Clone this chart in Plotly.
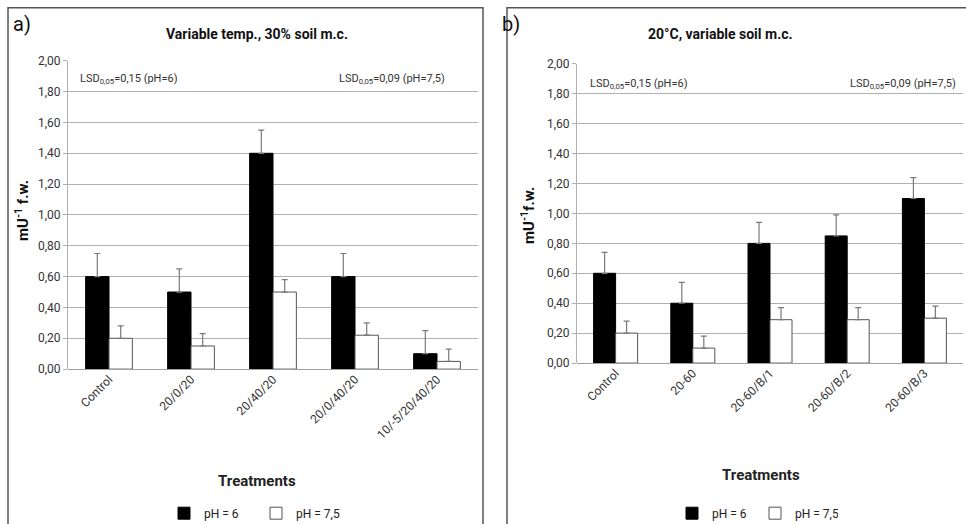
import plotly.graph_objects as go

# ---- data ----
cats_a = ["Control", "20/0/20", "20/40/20", "20/0/40/20", "10/-5/20/40/20"]
ph6_a = [0.60, 0.50, 1.40, 0.60, 0.10]
ph6_a_err = [0.15, 0.15, 0.15, 0.15, 0.15]
ph75_a = [0.20, 0.15, 0.50, 0.22, 0.05]
ph75_a_err = [0.08, 0.08, 0.08, 0.08, 0.08]

cats_b = ["Control", "20-60", "20-60/B/1", "20-60/B/2", "20-60/B/3"]
ph6_b = [0.60, 0.40, 0.80, 0.85, 1.10]
ph6_b_err = [0.14, 0.14, 0.14, 0.14, 0.14]
ph75_b = [0.20, 0.10, 0.29, 0.29, 0.30]
ph75_b_err = [0.08, 0.08, 0.08, 0.08, 0.08]

ytick_vals = [0.0, 0.2, 0.4, 0.6, 0.8, 1.0, 1.2, 1.4, 1.6, 1.8, 2.0]
ytick_text = ["0,00", "0,20", "0,40", "0,60", "0,80", "1,00", "1,20", "1,40", "1,60", "1,80", "2,00"]

# empirical page placement (body margin removed by post_script)
OFFX = 0
OFFY = 7.6
SY = 0.967
W, H = 966, 545
FONT = "Roboto, Arial, sans-serif"


def px(x):
    return (x - OFFX) / W


def py(y):
    return 1 - ((y - OFFY) / SY) / H


fig = go.Figure()

err_style = dict(type="data", symmetric=False, color="#7a7a7a", thickness=1.2, width=3)

fig.add_trace(go.Bar(x=cats_a, y=ph6_a, name="pH = 6", xaxis="x", yaxis="y",
                     marker=dict(color="black", line=dict(color="black", width=1)),
                     error_y=dict(array=ph6_a_err, arrayminus=[0] * 5, **err_style),
                     legend="legend"))
fig.add_trace(go.Bar(x=cats_a, y=ph75_a, name="pH = 7,5", xaxis="x", yaxis="y",
                     marker=dict(color="white", line=dict(color="#555555", width=1)),
                     error_y=dict(array=ph75_a_err, arrayminus=[0] * 5, **err_style),
                     legend="legend"))
fig.add_trace(go.Bar(x=cats_b, y=ph6_b, name="pH = 6", xaxis="x2", yaxis="y2",
                     marker=dict(color="black", line=dict(color="black", width=1)),
                     error_y=dict(array=ph6_b_err, arrayminus=[0] * 5, **err_style),
                     legend="legend2"))
fig.add_trace(go.Bar(x=cats_b, y=ph75_b, name="pH = 7,5", xaxis="x2", yaxis="y2",
                     marker=dict(color="white", line=dict(color="#555555", width=1)),
                     error_y=dict(array=ph75_b_err, arrayminus=[0] * 5, **err_style),
                     legend="legend2"))

xaxis_common = dict(type="category", tickangle=-45, showgrid=False, showline=False,
                    ticks="", tickfont=dict(family=FONT, size=12, color="#333"))
yaxis_common = dict(range=[0, 2.0], tickvals=ytick_vals, ticktext=ytick_text,
                    showgrid=True, gridcolor="#b0b0b0", gridwidth=1,
                    showline=True, linecolor="#b0b0b0", linewidth=1,
                    ticks="outside", ticklen=4, tickcolor="#b0b0b0",
                    zeroline=True, zerolinecolor="#a0a0a0", zerolinewidth=1,
                    tickfont=dict(family=FONT, size=12, color="#333"))

fig.update_layout(
    width=W, height=H,
    margin=dict(l=0, r=0, t=0, b=0),
    paper_bgcolor="white", plot_bgcolor="white",
    font=dict(family=FONT, color="#222"),
    barmode="group", bargap=0.43, bargroupgap=0.0,
    xaxis=dict(domain=[px(68), px(478)], anchor="y", **xaxis_common),
    yaxis=dict(domain=[py(367), py(61)], anchor="x", **yaxis_common),
    xaxis2=dict(domain=[px(577), px(963)], anchor="y2", **xaxis_common),
    yaxis2=dict(domain=[py(361), py(64)], anchor="x2", **yaxis_common),
    legend=dict(orientation="h", x=px(164), y=py(510), xanchor="left", yanchor="middle",
                font=dict(family=FONT, size=12, color="#222"), entrywidth=47,
                entrywidthmode="pixels", itemwidth=30, bgcolor="rgba(0,0,0,0)"),
    legend2=dict(orientation="h", x=px(672), y=py(510), xanchor="left", yanchor="middle",
                 font=dict(family=FONT, size=12, color="#222"), entrywidth=38,
                 entrywidthmode="pixels", itemwidth=30, bgcolor="rgba(0,0,0,0)"),
)

annotations = [
    dict(text="a)", x=px(22), y=py(24), font=dict(size=20, color="#111")),
    dict(text="b)", x=px(511), y=py(24), font=dict(size=20, color="#111")),
    dict(text="<b>Variable temp., 30% soil m.c.</b>", x=px(257), y=py(34), font=dict(size=14, color="#111")),
    dict(text="<b>20°C, variable soil m.c.</b>", x=px(720), y=py(34), font=dict(size=14, color="#111")),
    dict(text="<b>mU<sup>-1</sup> f.w.</b>", x=px(22), y=py(210), textangle=-90, font=dict(size=15, color="#111")),
    dict(text="<b>mU<sup>-1</sup>f.w.</b>", x=px(528), y=py(215), textangle=-90, font=dict(size=15, color="#111")),
    dict(text="<b>Treatments</b>", x=px(257), y=py(478), font=dict(size=15, color="#222")),
    dict(text="<b>Treatments</b>", x=px(761), y=py(472), font=dict(size=15, color="#222")),
    dict(text="LSD<sub>0,05</sub>=0,15 (pH=6)", x=px(78), y=py(79), xanchor="left", font=dict(size=11, color="#333")),
    dict(text="LSD<sub>0,05</sub>=0,09 (pH=7,5)", x=px(447), y=py(79), xanchor="right", font=dict(size=11, color="#333")),
    dict(text="LSD<sub>0,05</sub>=0,15 (pH=6)", x=px(588), y=py(84), xanchor="left", font=dict(size=11, color="#333")),
    dict(text="LSD<sub>0,05</sub>=0,09 (pH=7,5)", x=px(958), y=py(84), xanchor="right", font=dict(size=11, color="#333")),
]
for a in annotations:
    a.setdefault("xanchor", "center")
    a.update(xref="paper", yref="paper", yanchor="middle", showarrow=False)
    a["font"]["family"] = FONT
fig.update_layout(annotations=annotations)

top = min(py(7), 1 - 0.8 / H)
fig.update_layout(shapes=[
    dict(type="rect", xref="paper", yref="paper", x0=px(8), x1=px(483), y0=py(580), y1=top,
         line=dict(color="#555", width=1.5), layer="below"),
    dict(type="rect", xref="paper", yref="paper", x0=px(507), x1=px(990), y0=py(580), y1=top,
         line=dict(color="#555", width=1.5), layer="below"),
])

fig.write_html("out.html",
               config={"displayModeBar": False},
               post_script="document.body.style.margin='0';document.body.style.overflow='hidden';")
